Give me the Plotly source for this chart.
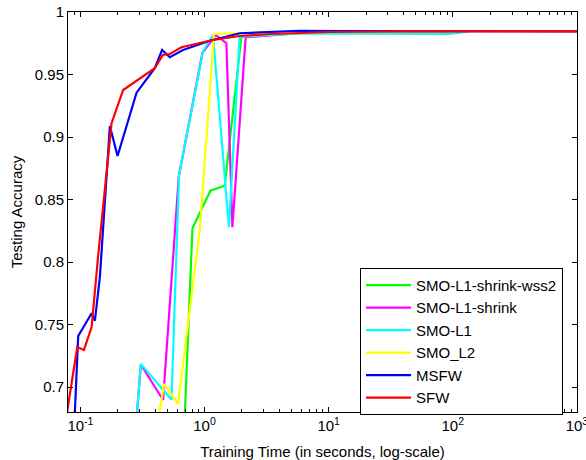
import plotly.graph_objects as go

# ---- data (training time in seconds, testing accuracy) ----
names = ["SMO-L1-shrink-wss2", "SMO-L1-shrink", "SMO-L1", "SMO_L2", "MSFW", "SFW"]
colors = ["#00FF00", "#FF00FF", "#00FFFF", "#FFFF00", "#0000FF", "#FF0000"]

wss2_t = [0.687, 0.799, 1.115, 1.454, 1.98, 5.8, 100]
wss2_acc = [0.668, 0.827, 0.857, 0.861, 0.980, 0.9832, 0.9845]

shrink_t = [0.2796, 0.3066, 0.4635, 0.6199, 0.9618, 1.231, 1.50, 1.677, 2.145, 5.8, 100]
shrink_acc = [0.668, 0.718, 0.6896, 0.8682, 0.9674, 0.9816, 0.975, 0.8278, 0.9798, 0.983, 0.9845]

l1_t = [0.2796, 0.3066, 0.5417, 0.6234, 0.9726, 1.170, 1.573, 1.92, 5.83, 93.9, 135.7]
l1_acc = [0.668, 0.7184, 0.690, 0.870, 0.9686, 0.9816, 0.8278, 0.9802, 0.9828, 0.9824, 0.9845]

l2_t = [0.4243, 0.4722, 0.612, 0.915, 1.192, 2.443, 10, 100]
l2_acc = [0.675, 0.7024, 0.6866, 0.8256, 0.9824, 0.9834, 0.984, 0.9845]

msfw_t = [0.0895, 0.096, 0.1231, 0.1308, 0.1435, 0.1727, 0.1992, 0.2833, 0.3975,
          0.455, 0.5248, 0.6714, 1.101, 1.92, 5.83, 12.24, 1000]
msfw_acc = [0.672, 0.7408, 0.759, 0.753, 0.788, 0.9088, 0.8848, 0.9355, 0.955,
            0.9696, 0.9638, 0.9696, 0.977, 0.983, 0.985, 0.9848, 0.9845]

sfw_t = [0.0764, 0.0943, 0.1067, 0.1231, 0.139, 0.1782, 0.221, 0.3975, 0.461,
         0.5248, 0.6519, 0.915, 1.17, 1.92, 3.35, 10.17, 37.2, 1000]
sfw_acc = [0.674, 0.732, 0.7296, 0.748, 0.805, 0.911, 0.9376, 0.955, 0.9656,
           0.9664, 0.9718, 0.9754, 0.9776, 0.9808, 0.9824, 0.984, 0.9845, 0.9845]

x_tickvals = [0.1, 1, 10, 100, 1000]
x_ticktext = ["10<sup>-1</sup>", "10<sup>0</sup>", "10<sup>1</sup>", "10<sup>2</sup>", "10<sup>3</sup>"]
x_minor = [m * d for d in [0.01, 0.1, 1, 10, 100] for m in range(2, 10)]
y_tickvals = [0.7, 0.75, 0.8, 0.85, 0.9, 0.95, 1.0]
y_ticktext = ["0.7", "0.75", "0.8", "0.85", "0.9", "0.95", "1"]

series = [(wss2_t, wss2_acc), (shrink_t, shrink_acc), (l1_t, l1_acc),
          (l2_t, l2_acc), (msfw_t, msfw_acc), (sfw_t, sfw_acc)]

font = "Liberation Sans"

fig = go.Figure()
for (t, a), n, c in zip(series, names, colors):
    fig.add_trace(go.Scatter(x=t, y=a, mode="lines", name=n,
                             line=dict(color=c, width=2.2)))

fig.update_layout(
    width=586, height=460,
    margin=dict(l=68, r=9, t=12, b=48),
    paper_bgcolor="white", plot_bgcolor="white",
    font=dict(family=font, size=15, color="black"),
    showlegend=True,
    legend=dict(x=0.5737, y=0.3605, xanchor="left", yanchor="top",
                bgcolor="white", bordercolor="black", borderwidth=1,
                font=dict(family=font, size=15), itemwidth=45, tracegroupgap=0),
)
fig.update_xaxes(
    type="log", range=[-1.1, 3.0008], automargin=False,
    tickvals=x_tickvals, ticktext=x_ticktext, ticklabeloverflow="allow",
    ticks="inside", ticklen=5, tickcolor="black", tickwidth=1,
    minor=dict(tickvals=x_minor, ticks="inside", ticklen=3, tickcolor="black", tickwidth=1),
    showline=True, linecolor="black", linewidth=1, mirror="ticks",
    showgrid=False, zeroline=False,
    title=dict(text="Training Time (in seconds, log-scale)", standoff=13,
               font=dict(family=font, size=15)),
)
fig.update_yaxes(
    range=[0.68, 1.0], automargin=False,
    tickvals=y_tickvals, ticktext=y_ticktext,
    ticks="inside", ticklen=5, tickcolor="black", tickwidth=1,
    showline=True, linecolor="black", linewidth=1, mirror="ticks",
    showgrid=False, zeroline=False,
    title=dict(text="Testing Accuracy", standoff=8, font=dict(family=font, size=15)),
)

fig.write_html("out.html")
